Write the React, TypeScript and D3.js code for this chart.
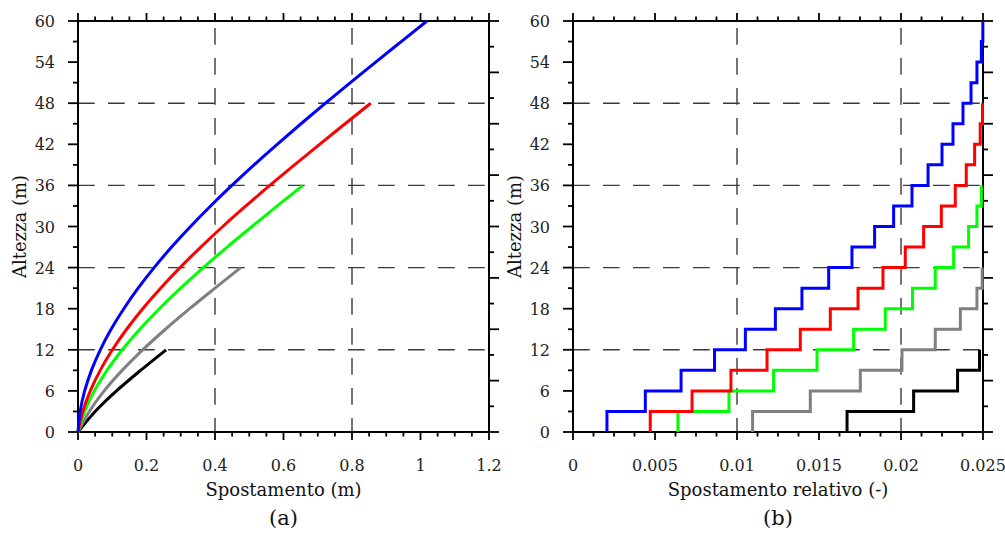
import React from "react";
import * as d3 from "d3";

// ---------- data ----------
const levels = [0, 3, 6, 9, 12, 15, 18, 21, 24, 27, 30, 33, 36, 39, 42, 45, 48, 51, 54, 57, 60];

// panel (a): storey displacement (m) at each level
const dispBlue = [0, 0.0062, 0.0194, 0.0392, 0.0651, 0.0966, 0.1337, 0.1755, 0.2223, 0.2733, 0.3285, 0.3872, 0.4492, 0.5141, 0.5816, 0.6511, 0.7225, 0.7953, 0.8692, 0.9439, 1.0188];
const dispRed = [0, 0.0141, 0.0359, 0.0648, 0.1003, 0.1419, 0.1889, 0.2411, 0.2978, 0.3586, 0.4227, 0.4901, 0.56, 0.632, 0.7054, 0.7799, 0.8548];
const dispGreen = [0, 0.0192, 0.0477, 0.0844, 0.1291, 0.1804, 0.2375, 0.2996, 0.3659, 0.4355, 0.5079, 0.5818, 0.6565];
const dispGray = [0, 0.0329, 0.0763, 0.1288, 0.189, 0.2553, 0.3261, 0.4, 0.4749];
const dispBlack = [0, 0.0501, 0.1124, 0.1828, 0.2572];

// panel (b): interstorey drift ratio (-) per storey
const driftBlue = [0.00207, 0.00441, 0.00659, 0.00863, 0.01051, 0.01234, 0.01396, 0.01559, 0.01701, 0.01839, 0.01955, 0.02067, 0.02165, 0.0225, 0.02317, 0.02378, 0.02427, 0.02463, 0.0249, 0.02499];
const driftRed = [0.00471, 0.00726, 0.00963, 0.01183, 0.01386, 0.01569, 0.01738, 0.0189, 0.02026, 0.02138, 0.02246, 0.02331, 0.02398, 0.02449, 0.02483, 0.02497];
const driftGreen = [0.0064, 0.00951, 0.01223, 0.01488, 0.01711, 0.01904, 0.0207, 0.02209, 0.02321, 0.02412, 0.02463, 0.0249];
const driftGray = [0.01095, 0.01447, 0.01752, 0.02006, 0.02209, 0.02362, 0.02463, 0.02495];
const driftBlack = [0.01671, 0.02077, 0.02345, 0.02479];

const colors = ["#0000ff", "#ff0000", "#00ff00", "#808080", "#000000"];

const yTicks = [0, 6, 12, 18, 24, 30, 36, 42, 48, 54, 60];
const yGrid = [12, 24, 36, 48];
const xTicksA = [0, 0.2, 0.4, 0.6, 0.8, 1, 1.2];
const xTicksB = [0, 0.005, 0.01, 0.015, 0.02, 0.025];
const xGridA = [0.4, 0.8];
const xGridB = [0.01, 0.02];

// ---------- layout ----------
const Y_TOP = 21;
const Y_BOT = 432;
const FONT = "'DejaVu Serif', serif";

const yScale = d3.scaleLinear().domain([0, 60]).range([Y_BOT, Y_TOP]);

type Series = { pts: [number, number][]; color: string; step: boolean };

function Panel(props: {
  x: d3.ScaleLinear<number, number>;
  xTicks: number[];
  xMinorStep: number;
  xGrid: number[];
  series: Series[];
  xTitle: string;
  label: string;
}) {
  const { x, xTicks, xMinorStep, xGrid, series, xTitle, label } = props;
  const [x0, x1] = x.range();
  const [d0, d1] = x.domain();
  const xMinor = d3.range(d0, d1 + xMinorStep / 2, xMinorStep);
  const yMinor = d3.range(0, 60.01, 3);
  const rMajor = d3.range(0, 60.01, 7.5);
  const rMinor = d3.range(3.75, 60, 7.5);
  const cx = (x0 + x1) / 2;
  const cy = (Y_TOP + Y_BOT) / 2;
  const gridStyle = { stroke: "#3a3a3a", strokeWidth: 1.4, strokeDasharray: "16.7,13.3" };
  const textStyle = { fontFamily: FONT };
  const lineSmooth = d3
    .line<[number, number]>()
    .x((d) => x(d[0]))
    .y((d) => yScale(d[1]))
    .curve(d3.curveMonotoneY);
  const lineStep = d3
    .line<[number, number]>()
    .x((d) => x(d[0]))
    .y((d) => yScale(d[1]));
  return (
    <g>
      {yGrid.map((v) => (
        <line key={"gy" + v} x1={x0} x2={x1} y1={yScale(v)} y2={yScale(v)} style={gridStyle} />
      ))}
      {xGrid.map((v) => (
        <line key={"gx" + v} x1={x(v)} x2={x(v)} y1={Y_TOP} y2={Y_BOT} style={{ ...gridStyle, strokeDashoffset: -7 }} />
      ))}
      <rect x={x0} y={Y_TOP} width={x1 - x0} height={Y_BOT - Y_TOP} fill="none" stroke="#000" strokeWidth={2} />
      {xMinor.map((v, i) => {
        const major = xTicks.some((t) => Math.abs(t - v) < xMinorStep / 10);
        const len = major ? 8 : 4.5;
        return (
          <g key={"xt" + i}>
            <line x1={x(v)} x2={x(v)} y1={Y_BOT} y2={Y_BOT + len} stroke="#000" strokeWidth={1.8} />
            <line x1={x(v)} x2={x(v)} y1={Y_TOP} y2={Y_TOP - len} stroke="#000" strokeWidth={1.8} />
          </g>
        );
      })}
      {yMinor.map((v, i) => {
        const major = yTicks.includes(v);
        const len = major ? 10 : 5;
        return <line key={"yl" + i} x1={x0} x2={x0 - len} y1={yScale(v)} y2={yScale(v)} stroke="#000" strokeWidth={1.8} />;
      })}
      {rMajor.map((v, i) => (
        <line key={"rM" + i} x1={x1} x2={x1 + 10} y1={yScale(v)} y2={yScale(v)} stroke="#000" strokeWidth={1.8} />
      ))}
      {rMinor.map((v, i) => (
        <line key={"rm" + i} x1={x1} x2={x1 + 5} y1={yScale(v)} y2={yScale(v)} stroke="#000" strokeWidth={1.8} />
      ))}
      {yTicks.map((v) => (
        <text key={"yl" + v} x={x0 - 23} y={yScale(v) + 6} textAnchor="end" fontSize={16} style={textStyle} fill="#222">
          {String(v)}
        </text>
      ))}
      {xTicks.map((v) => (
        <text key={"xl" + v} x={x(v)} y={471} textAnchor="middle" fontSize={16} style={textStyle} fill="#222">
          {String(v)}
        </text>
      ))}
      <text x={cx} y={496} textAnchor="middle" fontSize={18} style={textStyle} fill="#111">
        {xTitle}
      </text>
      <text x={cx} y={525} textAnchor="middle" fontSize={21} style={textStyle} fill="#111">
        {label}
      </text>
      <text
        transform={`translate(${x0 - 52},${cy}) rotate(-90)`}
        textAnchor="middle"
        fontSize={18}
        style={textStyle}
        fill="#111"
      >
        Altezza (m)
      </text>
      {series.map((s, i) => (
        <path
          key={"s" + i}
          d={(s.step ? lineStep(s.pts) : lineSmooth(s.pts)) || ""}
          fill="none"
          stroke={s.color}
          strokeWidth={3}
          strokeLinejoin="miter"
          strokeLinecap="butt"
        />
      ))}
    </g>
  );
}

function smoothPts(disp: number[]): [number, number][] {
  return disp.map((d, i) => [d, levels[i]] as [number, number]);
}

function stepPts(drift: number[]): [number, number][] {
  const pts: [number, number][] = [];
  drift.forEach((d, i) => {
    pts.push([d, levels[i]]);
    pts.push([d, levels[i + 1]]);
  });
  return pts;
}

export default function App() {
  const xA = d3.scaleLinear().domain([0, 1.2]).range([78, 489]);
  const xB = d3.scaleLinear().domain([0, 0.025]).range([573, 983]);
  const dispAll = [dispBlue, dispRed, dispGreen, dispGray, dispBlack];
  const driftAll = [driftBlue, driftRed, driftGreen, driftGray, driftBlack];
  const seriesA: Series[] = dispAll.map((d, i) => ({ pts: smoothPts(d), color: colors[i], step: false })).reverse();
  const seriesB: Series[] = driftAll.map((d, i) => ({ pts: stepPts(d), color: colors[i], step: true })).reverse();
  return (
    <svg
      width={1005}
      height={533}
      viewBox="0 0 1005 533"
      style={{ position: "absolute", left: 0, top: 0, background: "#fff" }}
    >
      <rect width={1005} height={533} fill="#fff" />
      <Panel x={xA} xTicks={xTicksA} xMinorStep={0.05} xGrid={xGridA} series={seriesA} xTitle="Spostamento (m)" label="(a)" />
      <Panel
        x={xB}
        xTicks={xTicksB}
        xMinorStep={0.00125}
        xGrid={xGridB}
        series={seriesB}
        xTitle="Spostamento relativo (-)"
        label="(b)"
      />
    </svg>
  );
}
